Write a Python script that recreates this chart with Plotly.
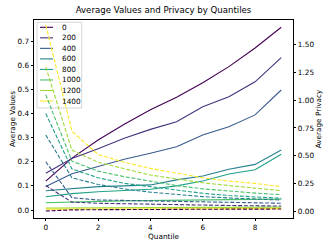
import plotly.graph_objects as go

quantiles = list(range(10))
noise_levels = ["0", "200", "400", "600", "800", "1000", "1200", "1400"]
colors = ["#440154", "#46327e", "#365c8d", "#277f8e", "#1fa187", "#4ac16d", "#a0da39", "#fde725"]

values_0 = [0.12, 0.215, 0.29, 0.355, 0.415, 0.467, 0.527, 0.594, 0.671, 0.757]
values_200 = [0.152, 0.213, 0.254, 0.297, 0.334, 0.366, 0.428, 0.469, 0.531, 0.631]
values_400 = [0.097, 0.15, 0.18, 0.21, 0.235, 0.262, 0.311, 0.345, 0.394, 0.497]
values_600 = [0.08, 0.09, 0.097, 0.10, 0.104, 0.125, 0.141, 0.169, 0.189, 0.249]
values_800 = [0.055, 0.068, 0.076, 0.08, 0.086, 0.10, 0.12, 0.149, 0.167, 0.231]
values_1000 = [0.03, 0.034, 0.036, 0.038, 0.04, 0.041, 0.042, 0.043, 0.044, 0.045]
values_1200 = [0.008, 0.009, 0.009, 0.01, 0.01, 0.01, 0.011, 0.011, 0.011, 0.012]
values_1400 = [0.003, 0.003, 0.004, 0.004, 0.004, 0.005, 0.005, 0.005, 0.005, 0.006]

privacy_0 = [0.0, 0.01, 0.012, 0.014, 0.015, 0.016, 0.016, 0.017, 0.017, 0.018]
privacy_200 = [0.23, 0.08, 0.07, 0.065, 0.06, 0.055, 0.052, 0.05, 0.047, 0.045]
privacy_400 = [0.445, 0.12, 0.10, 0.095, 0.09, 0.085, 0.08, 0.076, 0.073, 0.07]
privacy_600 = [0.687, 0.30, 0.24, 0.2, 0.17, 0.15, 0.13, 0.118, 0.108, 0.099]
privacy_800 = [0.88, 0.38, 0.30, 0.25, 0.22, 0.19, 0.16, 0.14, 0.125, 0.115]
privacy_1000 = [1.05, 0.45, 0.36, 0.31, 0.27, 0.23, 0.20, 0.18, 0.162, 0.148]
privacy_1200 = [1.30, 0.55, 0.44, 0.38, 0.325, 0.29, 0.255, 0.23, 0.205, 0.184]
privacy_1400 = [1.68, 0.72, 0.51, 0.44, 0.385, 0.34, 0.30, 0.27, 0.25, 0.22]

values = [values_0, values_200, values_400, values_600, values_800, values_1000, values_1200, values_1400]
privacy = [privacy_0, privacy_200, privacy_400, privacy_600, privacy_800, privacy_1000, privacy_1200, privacy_1400]

W, H = 332, 249
L, R, T, B = 34, 293, 20, 218
FONT = "DejaVu Sans"

fig = go.Figure()
for name, col, v in zip(noise_levels, colors, values):
    fig.add_trace(go.Scatter(x=quantiles, y=v, mode="lines", name=name,
                             line=dict(color=col, width=1.1), yaxis="y"))
for name, col, p in zip(noise_levels, colors, privacy):
    fig.add_trace(go.Scatter(x=quantiles, y=p, mode="lines", name=name + " privacy",
                             line=dict(color=col, width=1.1, dash="4px,1.8px"), yaxis="y2"))

def px(x):
    return (x - L) / (R - L)

def py(y):
    return (B - y) / (B - T)

shapes = [dict(type="rect", xref="paper", yref="paper", x0=px(37), x1=px(81.7), y0=py(108), y1=py(22.3),
               fillcolor="rgba(255,255,255,0.8)", line=dict(color="#cccccc", width=0.8), layer="below")]
annotations = []
for i, (name, col) in enumerate(zip(noise_levels, colors)):
    yy = 27.3 + i * 10.53
    shapes.append(dict(type="line", xref="paper", yref="paper", x0=px(40), x1=px(53), y0=py(yy), y1=py(yy),
                       line=dict(color=col, width=1.1), layer="below"))
    annotations.append(dict(x=px(60), y=py(yy), xref="paper", yref="paper", text=name, showarrow=False,
                            xanchor="left", yanchor="middle", font=dict(size=7.3, color="black", family=FONT)))

axis_common = dict(showgrid=False, zeroline=False, showline=True, linecolor="black", linewidth=0.8,
                   ticks="outside", ticklen=2.5, tickwidth=0.8, tickcolor="black",
                   tickfont=dict(size=7.3, color="black", family=FONT))
title_font = dict(size=7.3, color="black", family=FONT)

fig.update_layout(
    width=W, height=H,
    margin=dict(l=L, r=W - R, t=T, b=H - B, autoexpand=False),
    paper_bgcolor="white", plot_bgcolor="white",
    showlegend=False,
    title=dict(text="Average Values and Privacy by Quantiles", x=(75 + 252) / 2 / W, xanchor="center",
               y=1 - 10 / H, yanchor="middle", font=dict(size=8.6, color="black", family=FONT)),
    xaxis=dict(range=[-0.45, 9.45], tickvals=[0, 2, 4, 6, 8], mirror=True,
               title=dict(text="Quantile", font=title_font, standoff=1), **axis_common),
    yaxis=dict(range=[-0.033, 0.787], tickvals=[0, 0.1, 0.2, 0.3, 0.4, 0.5, 0.6, 0.7], tickformat=".1f",
               title=dict(text="Average Values", font=title_font, standoff=0), **axis_common),
    yaxis2=dict(range=[-0.063, 1.725], overlaying="y", side="right",
                tickvals=[0, 0.25, 0.5, 0.75, 1.0, 1.25, 1.5], tickformat=".2f",
                title=dict(text="Average Privacy", font=title_font, standoff=2), **axis_common),
    shapes=shapes, annotations=annotations,
)

fig.write_html("out.html", config={"displayModeBar": False},
               post_script="document.body.style.margin='0';document.body.style.overflow='hidden';")
